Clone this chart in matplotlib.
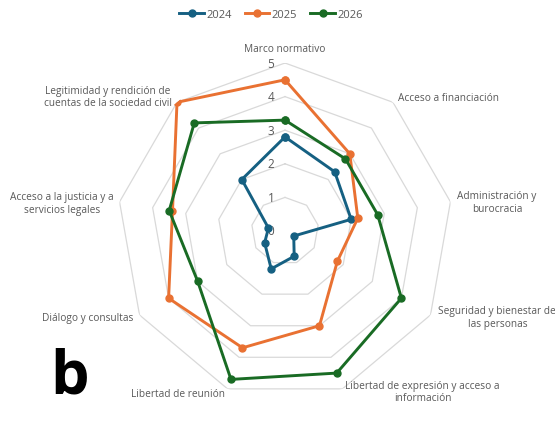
import matplotlib.pyplot as plt
import numpy as np

categories = [
    'Marco normativo',
    'Acceso a financiación',
    'Administración y\nburocracia',
    'Seguridad y bienestar de\nlas personas',
    'Libertad de expresión y acceso a\ninformación',
    'Libertad de reunión',
    'Diálogo y consultas',
    'Acceso a la justicia y a\nservicios legales',
    'Legitimidad y rendición de\ncuentas de la sociedad civil',
]
years = ['2024', '2025', '2026']
v2024 = [2.8, 2.3, 2.0, 0.3, 0.8, 1.2, 0.7, 0.5, 2.0]
v2025 = [4.5, 3.0, 2.2, 1.8, 3.0, 3.7, 4.0, 3.4, 5.0]
v2026 = [3.3, 2.8, 2.8, 4.0, 4.5, 4.7, 3.0, 3.5, 4.2]
colors = ['#156082', '#E97132', '#196B24']
rings = [1, 2, 3, 4, 5]

# label placement (offset in pixels, alignment)
label_pos = [
    ((0, 9), 'center', 'bottom'),
    ((5, 5), 'left', 'center'),
    ((7, 0), 'left', 'center'),
    ((8, -2), 'left', 'center'),
    ((3, 9), 'left', 'top'),
    ((-3, -5), 'right', 'center'),
    ((-6, -2), 'right', 'center'),
    ((-6, -1), 'right', 'center'),
    ((-5, 6), 'right', 'center'),
]

grey = '#595959'
plt.rcParams['font.family'] = ['Open Sans', 'DejaVu Sans']

fig = plt.figure(figsize=(5.55, 4.27), dpi=100)
ax = fig.add_axes([117/555, 27/427, 336/555, 336/427], projection='polar')
ax.set_theta_zero_location('N')
ax.set_theta_direction(-1)
ax.set_ylim(0, 5)
ax.grid(False)
ax.spines['polar'].set_visible(False)
ax.set_xticks([])
ax.set_yticks([])
ax.patch.set_alpha(0)

n = len(categories)
theta = np.linspace(0, 2*np.pi, n, endpoint=False)
tc = np.append(theta, theta[0])

for r in rings:
    ax.plot(tc, [r]*(n+1), color='#d9d9d9', lw=0.9, zorder=1)
for r in [0] + rings:
    ax.annotate(str(r), (0, r), xytext=(-14, 0), textcoords='offset pixels',
                ha='center', va='center', fontsize=8.5, color=grey)

for vals, y, c in zip([v2024, v2025, v2026], years, colors):
    vc = vals + vals[:1]
    ax.plot(tc, vc, color=c, lw=2.1, marker='o', markersize=5, label=y, zorder=3)

for t, lab, (off, ha, va) in zip(theta, categories, label_pos):
    ax.annotate(lab, (t, 5), xytext=off, textcoords='offset pixels',
                ha=ha, va=va, multialignment='center', fontsize=7.3, color=grey,
                annotation_clip=False)

fig.legend(loc='center', bbox_to_anchor=(271/555, 1-15/427), ncol=3, frameon=False,
           fontsize=8, handlelength=2.2, handletextpad=0.2, columnspacing=1.2,
           labelcolor=grey)

fig.text(70/555, 1-378/427, 'b', fontsize=44, fontweight='bold', color='black',
         ha='center', va='center')

fig.savefig('out.png', dpi=100)
